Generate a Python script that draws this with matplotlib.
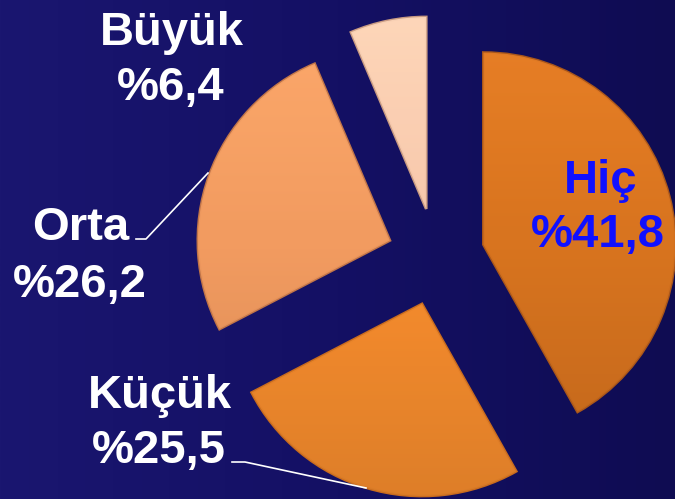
import numpy as np
import matplotlib
matplotlib.use("Agg")
import matplotlib.pyplot as plt
from matplotlib.colors import LinearSegmentedColormap, to_rgb

# Data
categories = ["Hiç", "Küçük", "Orta", "Büyük"]
values = [41.8, 25.5, 26.2, 6.4]
value_labels = ["%41,8", "%25,5", "%26,2", "%6,4"]

colors = ["#D8741F", "#F98E2E", "#F29B60", "#F8C6AA"]
edge_colors = ["#A9561A", "#C86B1E", "#C07448", "#C89A82"]

W, H = 675, 499
fig = plt.figure(figsize=(6.75, 4.99), dpi=100)
ax = fig.add_axes([0, 0, 1, 1])

# background gradient (left lighter -> right darker)
bg = LinearSegmentedColormap.from_list("bg", ["#1A1670", "#141064", "#0F0C52"])
grad = np.linspace(0, 1, 256).reshape(1, -1)
ax.imshow(grad, cmap=bg, extent=(0, W, 0, H), aspect="auto", zorder=0)

center = (436, H - 257)
radius = 192
explode = [49] * len(values)
wedges, _ = ax.pie(values, explode=explode, colors=colors, startangle=90,
                   counterclock=False, center=center, radius=radius,
                   wedgeprops=dict(linewidth=2.0, zorder=2))
for w, ec in zip(wedges, edge_colors):
    w.set_edgecolor(ec)
    w.set_zorder(2)

# subtle vertical shading clipped to each wedge
for w, c in zip(wedges, colors):
    base = np.array(to_rgb(c))
    light = np.clip(base * 1.06 + 0.03, 0, 1)
    dark = base * 0.88
    cm = LinearSegmentedColormap.from_list("s", [dark, base, light])
    vg = np.linspace(0, 1, 256).reshape(-1, 1)
    im = ax.imshow(vg, cmap=cm, extent=(0, W, 0, H), origin="lower",
                   aspect="auto", zorder=2.5, alpha=0.9)
    im.set_clip_path(w)

ax.set_xlim(0, W)
ax.set_ylim(0, H)
ax.set_aspect("auto")
ax.axis("off")

font = dict(family="Liberation Sans", fontweight="bold", fontsize=34,
            ha="center", va="baseline")

def y(px):
    return H - px

# labels
ax.text(172, y(45), categories[3], color="white", zorder=5, **font)
ax.text(171, y(100), value_labels[3], color="white", zorder=5, **font)

ax.text(81, y(240), categories[2], color="white", zorder=5, **font)
ax.text(80, y(297), value_labels[2], color="white", zorder=5, **font)

ax.text(601, y(193), categories[0], color="#1010FF", zorder=5, **font)
ax.text(598, y(247), value_labels[0], color="#1010FF", zorder=5, **font)

ax.text(160, y(408), categories[1], color="white", zorder=5, **font)
ax.text(159, y(463), value_labels[1], color="white", zorder=5, **font)

# leader lines
ax.plot([136, 146, 208], [y(239), y(239), y(173)], color="white", lw=1.2, zorder=4)
ax.plot([232, 245, 366], [y(462), y(462), y(488)], color="white", lw=1.2, zorder=4)

fig.savefig("out.png", dpi=100)
